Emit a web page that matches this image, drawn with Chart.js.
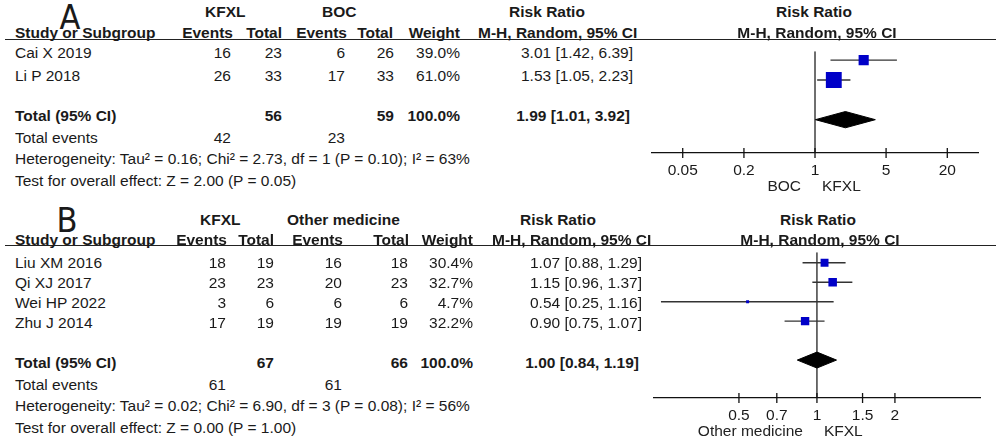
<!DOCTYPE html>
<html>
<head>
<meta charset="utf-8">
<script src="https://cdn.jsdelivr.net/npm/chart.js@4.4.1/dist/chart.umd.min.js"></script>
<style>
  body { margin: 0; width: 996px; height: 440px; background: #fff; position: relative; overflow: hidden;
         font-family: "Liberation Sans", Arial, sans-serif; font-size: 15.5px; color: #1a1a1a; }
  .t { position: absolute; white-space: pre; line-height: 18px; }
  .b { font-weight: bold; }
  .big { font-family: "Liberation Sans Narrow", "DejaVu Sans Condensed", sans-serif; font-size: 34px; line-height: 36px; }
  .rule { position: absolute; left: 5px; right: 0; height: 0; border-top: 1.5px solid #222; }
  .wrap { position: absolute; }
</style>
</head>
<body>
<div class="rule" style="top:39px"></div>
<div class="rule" style="top:245px"></div>
<div class="wrap" style="left:640px;top:40px;width:350px;height:158px"><canvas id="chartA"></canvas></div>
<div class="wrap" style="left:640px;top:246px;width:350px;height:197px"><canvas id="chartB"></canvas></div>

<script>
// panel A: KFXL vs BOC
const studiesA = ["Cai X 2019", "Li P 2018"]
const kfxlEventsA = [16, 26]
const kfxlTotalA = [23, 33]
const bocEventsA = [6, 17]
const bocTotalA = [26, 33]
const weightA = [39.0, 61.0]
const rrA = [3.01, 1.53]
const lowA = [1.42, 1.05]
const highA = [6.39, 2.23]
const pooledA = [1.99, 1.01, 3.92]
const sumTotalA = [56, 59]
const sumEventsA = [42, 23]
const hetA = "Heterogeneity: Tau² = 0.16; Chi² = 2.73, df = 1 (P = 0.10); I² = 63%"
const effectA = "Test for overall effect: Z = 2.00 (P = 0.05)"
const ticksA = [0.05, 0.2, 1, 5, 20]

// panel B: KFXL vs other medicine
const studiesB = ["Liu XM 2016", "Qi XJ 2017", "Wei HP 2022", "Zhu J 2014"]
const kfxlEventsB = [18, 23, 3, 17]
const kfxlTotalB = [19, 23, 6, 19]
const otherEventsB = [16, 20, 6, 19]
const otherTotalB = [18, 23, 6, 19]
const weightB = [30.4, 32.7, 4.7, 32.2]
const rrB = [1.07, 1.15, 0.54, 0.9]
const lowB = [0.88, 0.96, 0.25, 0.75]
const highB = [1.29, 1.37, 1.16, 1.07]
const pooledB = [1.0, 0.84, 1.19]
const sumTotalB = [67, 66]
const sumEventsB = [61, 61]
const hetB = "Heterogeneity: Tau² = 0.02; Chi² = 6.90, df = 3 (P = 0.08); I² = 56%"
const effectB = "Test for overall effect: Z = 0.00 (P = 1.00)"
const ticksB = [0.5, 0.7, 1, 1.5, 2]

const FONT = "'Liberation Sans', Arial, sans-serif"

function put(x, y, s, align, cls) {
  const d = document.createElement("div")
  d.className = "t " + (cls || "")
  d.textContent = s
  if (align === "r") d.style.right = 996 - x + "px"
  else d.style.left = x + "px"
  if (align === "c") d.style.transform = "translateX(-50%)"
  d.style.top = y - (cls === "big" ? 18 : 9) + "px"
  document.body.appendChild(d)
}

const ci = (r, l, h) => r.toFixed(2) + " [" + l.toFixed(2) + ", " + h.toFixed(2) + "]"

function table(p) {
  put(p.letterX, p.letterY, p.letter, "c", "big")
  put(p.grpX[0], p.y0, "KFXL", "l", "b")
  put(p.grpX[1], p.y0, p.ctrl, "l", "b")
  put(p.rrHeadX, p.y0, "Risk Ratio", "c", "b")
  put(p.plotHeadX, p.y0, "Risk Ratio", "c", "b")
  put(15, p.y1, "Study or Subgroup", "l", "b")
  put(p.headR[0], p.y1, "Events", "r", "b")
  put(p.headR[1], p.y1, "Total", "r", "b")
  put(p.headR[2], p.y1, "Events", "r", "b")
  put(p.headR[3], p.y1, "Total", "r", "b")
  put(p.headR[4], p.y1, "Weight", "r", "b")
  put(p.mhX, p.y1, "M-H, Random, 95% CI", "l", "b")
  put(p.plotMhX, p.y1, "M-H, Random, 95% CI", "c", "b")
  p.studies.forEach((s, i) => {
    const y = p.rowY[i]
    put(15, y, s, "l")
    put(p.col[0], y, String(p.ev1[i]), "r")
    put(p.col[1], y, String(p.n1[i]), "r")
    put(p.col[2], y, String(p.ev2[i]), "r")
    put(p.col[3], y, String(p.n2[i]), "r")
    put(p.col[4], y, p.w[i].toFixed(1) + "%", "r")
    put(p.col[5], y, ci(p.rr[i], p.lo[i], p.hi[i]), "r")
  })
  put(15, p.totY, "Total (95% CI)", "l", "b")
  put(p.col[1], p.totY, String(p.sumN[0]), "r", "b")
  put(p.col[3], p.totY, String(p.sumN[1]), "r", "b")
  put(p.col[4], p.totY, "100.0%", "r", "b")
  put(p.col[5] - 3, p.totY, ci(p.pooled[0], p.pooled[1], p.pooled[2]), "r", "b")
  put(15, p.totY + 22, "Total events", "l")
  put(p.col[0], p.totY + 22, String(p.sumEv[0]), "r")
  put(p.col[2], p.totY + 22, String(p.sumEv[1]), "r")
  put(15, p.totY + 43, p.het, "l")
  put(15, p.totY + 65, p.effect, "l")
}

table({
  letter: "A", letterX: 70, letterY: 17, ctrl: "BOC", grpX: [205, 322], y0: 12, y1: 33,
  rrHeadX: 547, plotHeadX: 814, mhX: 478, plotMhX: 817,
  headR: [233, 282, 347, 393, 460], col: [231, 282, 345, 394, 460, 633],
  rowY: [53, 76], totY: 116,
  studies: studiesA, ev1: kfxlEventsA, n1: kfxlTotalA, ev2: bocEventsA, n2: bocTotalA,
  w: weightA, rr: rrA, lo: lowA, hi: highA, pooled: pooledA, sumN: sumTotalA, sumEv: sumEventsA,
  het: hetA, effect: effectA,
})

table({
  letter: "B", letterX: 67, letterY: 220, ctrl: "Other medicine", grpX: [200, 287], y0: 220, y1: 240,
  rrHeadX: 558, plotHeadX: 818, mhX: 492, plotMhX: 820,
  headR: [227, 274, 343, 409, 473], col: [226, 274, 342, 408, 473, 642],
  rowY: [263, 283, 303, 323], totY: 363,
  studies: studiesB, ev1: kfxlEventsB, n1: kfxlTotalB, ev2: otherEventsB, n2: otherTotalB,
  w: weightB, rr: rrB, lo: lowB, hi: highB, pooled: pooledB, sumN: sumTotalB, sumEv: sumEventsB,
  het: hetB, effect: effectB,
})

// labels either side of the line of no effect
const sideLabels = {
  id: "sideLabels",
  afterDraw(chart, args, opts) {
    const ctx = chart.ctx
    const x = chart.scales.x.getPixelForValue(1)
    const y = chart.chartArea.bottom + 34
    ctx.save()
    ctx.font = "15.5px " + FONT
    ctx.fillStyle = "#222"
    ctx.textBaseline = "middle"
    ctx.textAlign = "right"
    ctx.fillText(opts.left, x - 14, y)
    ctx.textAlign = "left"
    ctx.fillText(opts.right, x + 7, y)
    ctx.restore()
  },
}

function forest(id, o) {
  const pooledRow = o.rr.length + 1
  // lower order is drawn on top
  const datasets = [
    {
      type: "line",
      order: 3,
      data: [{ x: 1, y: o.yMin }, { x: 1, y: o.yMax }],
      borderColor: "#222",
      borderWidth: 1.3,
      pointRadius: 0,
    },
  ]
  o.rr.forEach((r, i) => {
    datasets.push({
      type: "line",
      order: 2,
      data: [{ x: o.lo[i], y: i }, { x: o.hi[i], y: i }],
      borderColor: "#333",
      borderWidth: 1.4,
      pointRadius: 0,
    })
  })
  datasets.push({
    type: "scatter",
    order: 0,
    data: o.rr.map((r, i) => ({ x: r, y: i })),
    pointStyle: "rect",
    pointRadius: o.w.map((w) => Math.max(3, w * 0.26) / Math.SQRT2),
    backgroundColor: "#0000c8",
    borderWidth: 0,
  })
  const [est, lo, hi] = o.pooled
  datasets.push({
    type: "line",
    order: 0,
    data: [
      { x: lo, y: pooledRow },
      { x: est, y: pooledRow - 0.41 },
      { x: hi, y: pooledRow },
      { x: est, y: pooledRow + 0.41 },
      { x: lo, y: pooledRow },
    ],
    fill: "shape",
    backgroundColor: "#000",
    borderColor: "#000",
    borderWidth: 1,
    pointRadius: 0,
  })
  datasets.push({
    type: "scatter",
    order: 1,
    data: o.ticks.map((t) => ({ x: t, y: o.yMax })),
    pointStyle: "line",
    rotation: 90,
    pointRadius: 5,
    borderColor: "#111",
    borderWidth: 1.3,
    clip: false,
  })

  new Chart(document.getElementById(id), {
    type: "scatter",
    data: { datasets: datasets },
    options: {
      responsive: true,
      maintainAspectRatio: false,
      animation: false,
      layout: { padding: { left: o.padL, right: o.padR, top: 0, bottom: 0 } },
      plugins: {
        legend: { display: false },
        tooltip: { enabled: false },
        sideLabels: { left: o.sides[0], right: o.sides[1] },
      },
      scales: {
        x: {
          type: "logarithmic",
          min: o.xMin,
          max: o.xMax,
          afterBuildTicks: (s) => {
            s.ticks = o.ticks.map((v) => ({ value: v }))
          },
          afterFit: (s) => {
            s.height = 45
          },
          ticks: {
            callback: (v) => String(v),
            color: "#1a1a1a",
            font: { family: FONT, size: 15.5 },
            padding: 8,
            maxRotation: 0,
            autoSkip: false,
          },
          grid: { display: false, drawTicks: false },
          border: { display: true, color: "#111", width: 1.3 },
        },
        y: { type: "linear", reverse: true, min: o.yMin, max: o.yMax, display: false },
      },
    },
    plugins: [sideLabels],
  })
}

forest("chartA", {
  rr: rrA, lo: lowA, hi: highA, w: weightA, pooled: pooledA, ticks: ticksA,
  xMin: 0.0245, xMax: 40.8, yMin: -0.45, yMax: 4.68, padL: 7, padR: 11, sides: ["BOC", "KFXL"],
})
forest("chartB", {
  rr: rrB, lo: lowB, hi: highB, w: weightB, pooled: pooledB, ticks: ticksB,
  xMin: 0.235, xMax: 4.26, yMin: -0.54, yMax: 6.95, padL: 14, padR: 10, sides: ["Other medicine", "KFXL"],
})
</script>
</body>
</html>
